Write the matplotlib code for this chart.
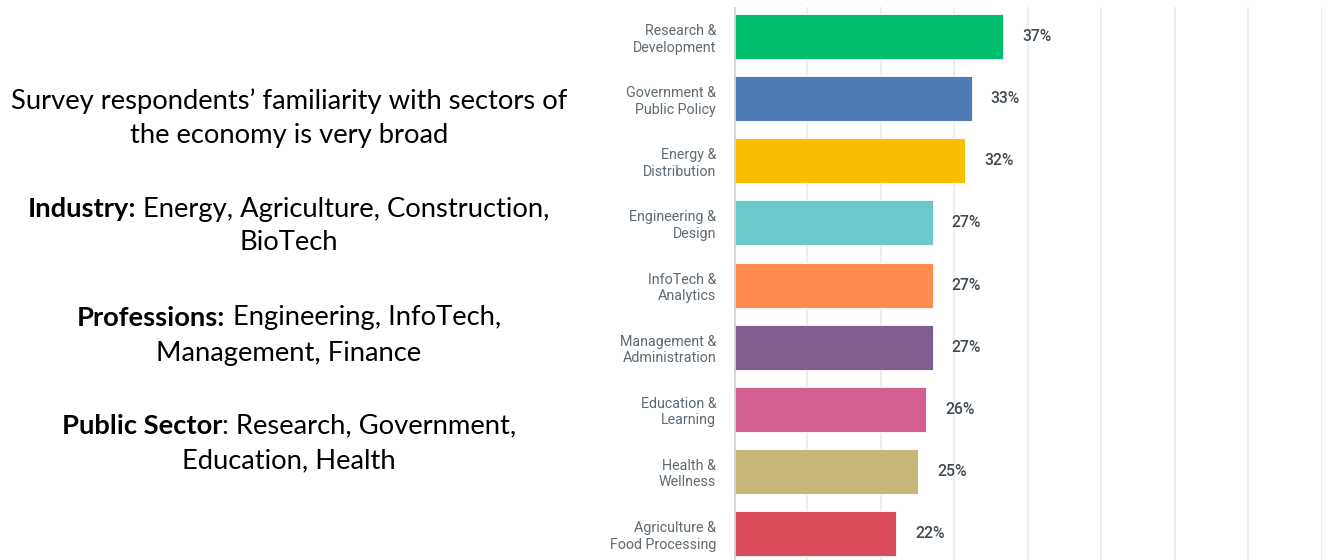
import matplotlib
matplotlib.use("Agg")
import matplotlib.pyplot as plt

categories = ["Research &\nDevelopment", "Government &\nPublic Policy", "Energy &\nDistribution",
              "Engineering &\nDesign", "InfoTech &\nAnalytics", "Management &\nAdministration",
              "Education &\nLearning", "Health &\nWellness", "Agriculture &\nFood Processing"]
values = [36.7, 32.4, 31.5, 27.1, 27.1, 27.1, 26.2, 25.1, 22.1]
value_labels = ["37%", "33%", "32%", "27%", "27%", "27%", "26%", "25%", "22%"]
colors = ["#00BF6F", "#507CB6", "#F9BE00", "#6BC8CD", "#FF8B4F",
          "#7F5F90", "#D25F90", "#C7B879", "#DB4D5C"]
grid_ticks = [10, 20, 30, 40, 50, 60, 70, 80]

W, H, DPI = 1325, 560, 100
fig = plt.figure(figsize=(W / DPI, H / DPI), dpi=DPI)
fig.patch.set_facecolor("white")

ax = fig.add_axes([733.5 / W, 0, (1321.5 - 733.5) / W, 1 - 7 / H])
y = list(range(len(categories)))
ax.barh(y, values, height=0.725, color=colors, edgecolor="white", linewidth=0.6, zorder=3)
ax.set_xlim(0, 80)
ax.set_ylim(8.43, -0.48)
for g in grid_ticks:
    ax.axvline(g, color="#ebebeb", lw=1.2, zorder=1)
ax.axvline(0, color="#d6d6d6", lw=2.0, zorder=4)
for s in ax.spines.values():
    s.set_visible(False)
ax.set_xticks([])
ax.set_yticks(y)
ax.set_yticklabels(categories, fontsize=10.3, color="#5f6a72", family="Roboto",
                   linespacing=1.25, ha="right")
ax.tick_params(axis="y", length=0, pad=12.5)

for yi, v, lab in zip(y, values, value_labels):
    ax.annotate(lab, xy=(v, yi), xytext=(19 * 72 / DPI, 0), textcoords="offset points",
                ha="left", va="center", fontsize=11.3, color="#404a52",
                family="Roboto", fontweight="medium")

# Left text block with mixed bold/regular segments, centered
lines = [
    (101, [("Survey respondents\u2019 familiarity with sectors of", "normal")]),
    (135, [("the economy is very broad", "normal")]),
    (209, [("Industry:", "bold"), (" Energy, Agriculture, Construction,", "normal")]),
    (243, [("BioTech", "normal")]),
    (318, [("Professions:", "bold"), (" Engineering, InfoTech,", "normal")]),
    (353, [("Management, Finance", "normal")]),
    (426, [("Public Sector", "bold"), (": Research, Government,", "normal")]),
    (461, [("Education, Health", "normal")]),
]
cx = 289
fs = 19.7
fam = "Lato"
renderer = fig.canvas.get_renderer()
for ypix, segs in lines:
    texts = []
    widths = []
    for s, w in segs:
        t = fig.text(0, 0, s, fontsize=fs, fontweight=w, family=fam, color="black",
                     ha="left", va="center")
        bb = t.get_window_extent(renderer=renderer)
        texts.append(t)
        widths.append(bb.width)
    total = sum(widths)
    x0 = cx - total / 2
    for t, wd in zip(texts, widths):
        t.set_position((x0 / W, 1 - ypix / H))
        x0 += wd

fig.savefig("out.png", dpi=DPI, facecolor="white")
